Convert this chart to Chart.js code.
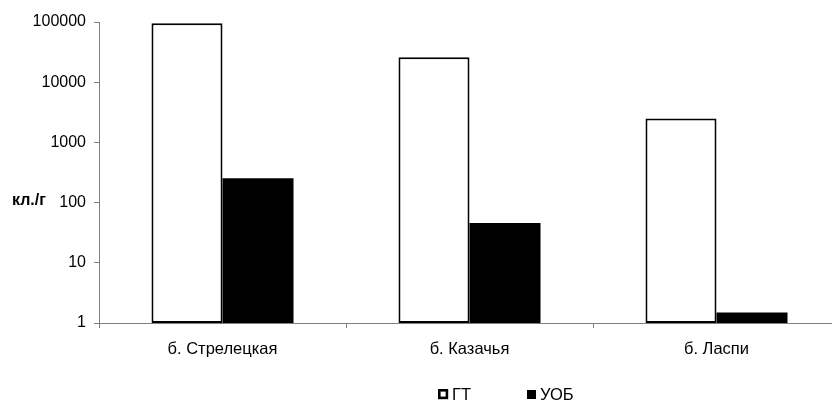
<!DOCTYPE html>
<html>
<head>
<meta charset="utf-8">
<script src="https://cdn.jsdelivr.net/npm/chart.js@4"></script>
<style>
  html, body { margin: 0; padding: 0; background: #fff; overflow: hidden; }
  #wrap { width: 832px; height: 403px; overflow: hidden; }
</style>
</head>
<body>
<div id="wrap"><canvas id="myChart" width="842" height="403"></canvas></div>
<script>
// data
var bays = ["б. Стрелецкая", "б. Казачья", "б. Ласпи"];
var gtValues = [95000, 26000, 2500];
var uobValues = [255, 46, 1.5];
var yTicks = [1, 10, 100, 1000, 10000, 100000];
var seriesNames = ["ГТ", "УОБ"];

var FONT = "'Liberation Sans', Arial, sans-serif";
var axisGrey = '#808080';

// y title and legend, placed like in the original
var extras = {
    id: 'extras',
    afterDraw: function(chart) {
        var c = chart.ctx;
        c.save();
        c.fillStyle = '#000';
        c.textBaseline = 'middle';
        c.font = 'bold 16px ' + FONT;
        c.fillText('кл./г', 12, 201);

        c.font = '16.5px ' + FONT;
        // ГТ: hollow square
        c.strokeStyle = '#000';
        c.lineWidth = 2.6;
        c.strokeRect(439.3, 390.3, 7.6, 7.6);
        c.fillText(seriesNames[0], 452, 395);
        // УОБ: filled square
        c.fillRect(527, 390, 9, 9);
        c.fillText(seriesNames[1], 540, 395);
        c.restore();
    }
};

var ctx = document.getElementById('myChart').getContext('2d');
var chart = new Chart(ctx, {
    type: 'bar',
    data: {
        labels: bays,
        datasets: [{
            label: seriesNames[0],
            data: gtValues,
            backgroundColor: '#ffffff',
            borderColor: '#000000',
            borderWidth: 2,
            borderSkipped: false,
            categoryPercentage: 0.575,
            barPercentage: 1
        }, {
            label: seriesNames[1],
            data: uobValues,
            backgroundColor: '#000000',
            borderWidth: 0,
            categoryPercentage: 0.575,
            barPercentage: 1
        }]
    },
    options: {
        responsive: false,
        animation: false,
        layout: { padding: { top: 22, right: 2, left: 0, bottom: 0 } },
        plugins: {
            legend: { display: false },
            tooltip: { enabled: false }
        },
        scales: {
            x: {
                grid: {
                    offset: true,
                    drawOnChartArea: false,
                    drawTicks: true,
                    tickLength: 5,
                    color: axisGrey
                },
                border: { color: axisGrey, width: 1 },
                ticks: {
                    color: '#000',
                    font: { family: FONT, size: 16.5 },
                    padding: 12,
                    maxRotation: 0
                },
                afterFit: function(scale) { scale.height = 80; }
            },
            y: {
                type: 'logarithmic',
                min: 1,
                max: 100000,
                grid: {
                    drawOnChartArea: false,
                    drawTicks: true,
                    tickLength: 5,
                    color: axisGrey
                },
                border: { color: axisGrey, width: 1 },
                ticks: {
                    color: '#000',
                    font: { family: FONT, size: 16 },
                    padding: 8,
                    callback: function(v) { return String(v); }
                },
                afterBuildTicks: function(scale) {
                    scale.ticks = yTicks.map(function(v) { return { value: v }; });
                },
                afterFit: function(scale) { scale.width = 99; }
            }
        }
    },
    plugins: [extras]
});
</script>
</body>
</html>
